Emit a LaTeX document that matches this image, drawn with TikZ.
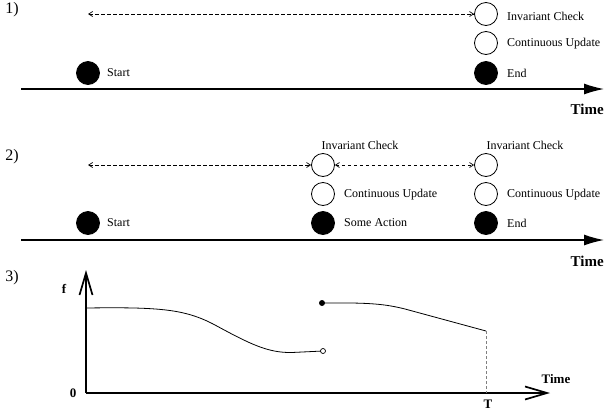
\documentclass[tikz,border=0pt]{standalone}
\usepackage{fontspec}
\setmainfont{Liberation Serif}
\usetikzlibrary{arrows.meta}
\begin{document}
\begin{tikzpicture}[x=1pt,y=-1pt,
  filledev/.style={circle,draw=black,fill=black,minimum size=23pt,inner sep=0pt,line width=0.8pt},
  hollowev/.style={circle,draw=black,fill=white,minimum size=23pt,inner sep=0pt,line width=0.8pt},
  lbl/.style={anchor=west,inner sep=0pt,font=\fontsize{12}{14}\selectfont},
  toplbl/.style={inner sep=0pt,font=\fontsize{12}{14}\selectfont},
  panel/.style={inner sep=0pt,font=\fontsize{16}{18}\selectfont},
  timelbl/.style={inner sep=0pt,font=\fontsize{15}{17}\selectfont\bfseries},
  axlbl/.style={inner sep=0pt,font=\fontsize{13}{15}\selectfont\bfseries},
  dashconn/.style={dashed,dash pattern=on 3.5pt off 2.5pt,line width=0.7pt,
     {Straight Barb[length=4pt,width=5pt]}-{Straight Barb[length=4pt,width=5pt]}},
  timeline/.style={line width=1.3pt,-{Latex[length=20pt,width=11pt]}},
  axisline/.style={line width=1.7pt,-{Straight Barb[length=22pt,width=13pt,line width=1.7pt]}},
  curve/.style={line width=0.8pt}]
\useasboundingbox (0,0) rectangle (606,410);

% ---------- panel 1 ----------
\node[panel] (p1) at (12,10) {1)};
\node[hollowev] (ic1) at (486,14) {};
\node[hollowev] (cu1) at (486,43) {};
\node[filledev] (end1) at (486,73) {};
\node[filledev] (st1) at (88,73) {};
\node[lbl] (ic1l) at (507,16) {Invariant Check};
\node[lbl] (cu1l) at (507,44) {Continuous Update};
\node[lbl] (end1l) at (507,73) {End};
\node[lbl] (st1l) at (107,73) {Start};
\coordinate (d1) at (88,14);
\draw[dashconn] (d1) -- (ic1);
\coordinate (t1s) at (21,89);
\coordinate (t1e) at (604,89);
\draw[timeline] (t1s) -- (t1e);
\node[timelbl,anchor=east] (time1) at (604,109) {Time};

% ---------- panel 2 ----------
\node[panel] (p2) at (12,157) {2)};
\node[hollowev] (ic2a) at (323,165) {};
\node[hollowev] (ic2b) at (486,165) {};
\node[hollowev] (cu2a) at (323,194) {};
\node[hollowev] (cu2b) at (486,194) {};
\node[filledev] (st2) at (88,223) {};
\node[filledev] (sa2) at (323,223) {};
\node[filledev] (end2) at (486,223) {};
\node[toplbl] (ic2al) at (360,145) {Invariant Check};
\node[toplbl] (ic2bl) at (525,145) {Invariant Check};
\node[lbl] (cu2al) at (344,195) {Continuous Update};
\node[lbl] (cu2bl) at (507,195) {Continuous Update};
\node[lbl] (st2l) at (107,223) {Start};
\node[lbl] (sa2l) at (344,223) {Some Action};
\node[lbl] (end2l) at (507,223) {End};
\coordinate (d2) at (88,165);
\draw[dashconn] (d2) -- (ic2a);
\draw[dashconn] (ic2a) -- (ic2b);
\coordinate (t2s) at (21,240);
\coordinate (t2e) at (604,240);
\draw[timeline] (t2s) -- (t2e);
\node[timelbl,anchor=east] (time2) at (604,261) {Time};

% ---------- panel 3 ----------
\node[panel] (p3) at (12,278) {3)};
\coordinate (o) at (86,393);
\coordinate (ytop) at (86,270);
\coordinate (xend) at (550,393);
\draw[axisline] (o) -- (ytop);
\draw[axisline] (o) -- (xend);
\node[axlbl] (flbl) at (64,289) {f};
\node[axlbl] (zlbl) at (73,393) {0};
\node[axlbl] (tlbl) at (556,379) {Time};
\node[axlbl] (Tlbl) at (488,404) {T};

\coordinate (c1s) at (86,308);
\coordinate (c1e) at (323,351);
\draw[curve] (c1s) .. controls (160,307) and (185,309) .. (215,325)
   .. controls (250,344) and (268,353) .. (292,352.5) -- (c1e);
\node[circle,draw=black,fill=white,line width=0.7pt,minimum size=5pt,inner sep=0pt] (open1) at (c1e) {};

\coordinate (c2s) at (322,303);
\coordinate (c2e) at (486,331);
\draw[curve] (c2s) .. controls (370,302.5) and (385,304) .. (405,309) -- (c2e);
\node[circle,fill=black,minimum size=6pt,inner sep=0pt] (dot2) at (c2s) {};

\coordinate (Tbase) at (486,393);
\draw[dashed,dash pattern=on 3pt off 2pt,gray,line width=0.8pt] (c2e) -- (Tbase);
\end{tikzpicture}
\end{document}
